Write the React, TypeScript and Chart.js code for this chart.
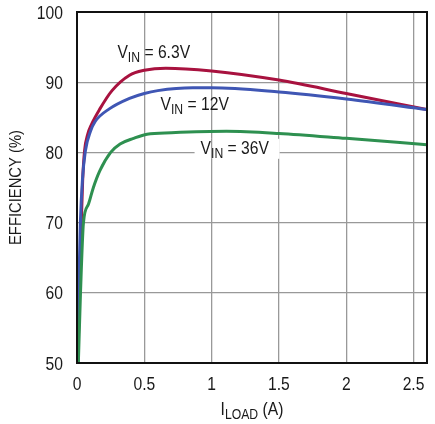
import { useEffect, useRef } from "react"
import { Chart, registerables } from "chart.js"

Chart.register(...registerables)

const FONT = '"Liberation Sans", Arial, sans-serif'
// the reference uses a condensed Helvetica; squeeze Liberation Sans to match
const SX = 0.87

// load current (A) and efficiency (%) for each input voltage
const vin63X = [0.007, 0.02, 0.032, 0.042, 0.056, 0.08, 0.108, 0.17, 0.26, 0.39, 0.5, 0.66, 1.0, 1.5, 2.0, 2.6]
const vin63Y = [50, 62, 70, 76, 80.2, 82.6, 84.0, 86.2, 88.8, 91, 91.7, 92.0, 91.6, 90.3, 88.4, 86.1]

const vin12X = [0.006, 0.015, 0.025, 0.04, 0.062, 0.1, 0.135, 0.24, 0.39, 0.5, 0.6, 0.86, 1.0, 1.5, 2.0, 2.6]
const vin12Y = [50, 62, 70, 76, 80.2, 83.0, 84.4, 86.2, 87.7, 88.4, 88.8, 89.2, 89.2, 88.6, 87.6, 86.1]

const vin36X = [0.01, 0.026, 0.048, 0.085, 0.12, 0.17, 0.25, 0.32, 0.42, 0.52, 0.7, 1.11, 1.5, 2.0, 2.6]
const vin36Y = [50, 60, 70, 72.6, 74.9, 77.4, 80, 81.2, 82, 82.6, 82.8, 83.0, 82.7, 82.0, 81.1]

const xTicks = [0, 0.5, 1, 1.5, 2, 2.5]
const yTicks = [50, 60, 70, 80, 90, 100]

// curve labels, anchored in data units (left edge, baseline)
const labels = [
  { rest: "6.3V", x: 0.3, y: 93.4, box: false },
  { rest: "12V", x: 0.62, y: 86.0, box: false },
  { rest: "36V", x: 0.918, y: 79.8, box: true },
]

const pts = (xs: number[], ys: number[]) => xs.map((x, i) => ({ x, y: ys[i] }))

// draws condensed text with its left edge at x; returns the width used
function txt(ctx: CanvasRenderingContext2D, s: string, x: number, y: number, size: number) {
  ctx.font = `${size}px ${FONT}`
  ctx.save()
  ctx.translate(x, y)
  ctx.scale(SX, 1)
  ctx.textAlign = "left"
  ctx.textBaseline = "alphabetic"
  ctx.fillText(s, 0, 0)
  ctx.restore()
  return ctx.measureText(s).width * SX
}

function width(ctx: CanvasRenderingContext2D, s: string, size: number) {
  ctx.font = `${size}px ${FONT}`
  return ctx.measureText(s).width * SX
}

function drawSub(ctx: CanvasRenderingContext2D, x: number, y: number, main: string, sub: string, rest: string, size: number) {
  let w = txt(ctx, main, x, y, size)
  w += txt(ctx, sub, x + w, y + size * 0.22, size * 0.78)
  w += txt(ctx, rest, x + w, y, size)
  return w
}

const decor = {
  id: "decor",
  beforeDatasetsDraw(chart: any) {
    const { ctx, scales } = chart
    ctx.save()
    labels.filter((l) => l.box).forEach((l) => {
      const px = scales.x.getPixelForValue(l.x)
      const py = scales.y.getPixelForValue(l.y)
      ctx.fillStyle = "#fff"
      ctx.fillRect(px - 6, py - 15, 85, 20)
      // keep the vertical grid line visible through the box
      ctx.strokeStyle = "#999"
      ctx.lineWidth = 1.3
      const gx = scales.x.getPixelForValue(1)
      ctx.beginPath()
      ctx.moveTo(gx, py - 15)
      ctx.lineTo(gx, py + 5)
      ctx.stroke()
    })
    ctx.restore()
  },
  afterDraw(chart: any) {
    const { ctx, chartArea, scales } = chart
    ctx.save()
    ctx.strokeStyle = "#111"
    ctx.lineWidth = 2
    ctx.strokeRect(chartArea.left, chartArea.top, chartArea.right - chartArea.left, chartArea.bottom - chartArea.top)

    ctx.fillStyle = "#1a1a1a"

    // tick labels
    scales.y.ticks.forEach((t: any) => {
      const s = String(t.value)
      const py = scales.y.getPixelForValue(t.value)
      txt(ctx, s, chartArea.left - 14 - width(ctx, s, 18), py + 6.5, 18)
    })
    scales.x.ticks.forEach((t: any) => {
      const s = String(t.value)
      const px = scales.x.getPixelForValue(t.value)
      txt(ctx, s, px - width(ctx, s, 18) / 2, chartArea.bottom + 27, 18)
    })

    labels.forEach((l) => {
      drawSub(ctx, scales.x.getPixelForValue(l.x), scales.y.getPixelForValue(l.y), "V", "IN", " = " + l.rest, 18)
    })

    // x title with subscript
    const total = width(ctx, "I", 18) + width(ctx, "LOAD", 18 * 0.78) + width(ctx, " (A)", 18)
    const cx = (chartArea.left + chartArea.right) / 2
    drawSub(ctx, cx - total / 2, chartArea.bottom + 52, "I", "LOAD", " (A)", 18)

    // y title
    ctx.translate(21, (chartArea.top + chartArea.bottom) / 2)
    ctx.rotate(-Math.PI / 2)
    const tw = width(ctx, "EFFICIENCY (%)", 17)
    txt(ctx, "EFFICIENCY (%)", -tw / 2, 0, 17)
    ctx.restore()
  },
}

export default function App() {
  const canvasRef = useRef<HTMLCanvasElement>(null)
  const chartRef = useRef<Chart | null>(null)

  useEffect(() => {
    if (!canvasRef.current) return
    if (chartRef.current) chartRef.current.destroy()

    const line = (data: any, color: string) => ({
      data,
      borderColor: color,
      borderWidth: 3,
      pointRadius: 0,
      fill: false,
      cubicInterpolationMode: "monotone" as const,
    })

    chartRef.current = new Chart(canvasRef.current, {
      type: "line",
      data: {
        datasets: [
          line(pts(vin36X, vin36Y), "#2e9050"),
          line(pts(vin12X, vin12Y), "#3f56b4"),
          line(pts(vin63X, vin63Y), "#a8123f"),
        ],
      },
      options: {
        animation: false,
        responsive: true,
        maintainAspectRatio: false,
        layout: { padding: { top: 12, right: 8, left: 0, bottom: 0 } },
        plugins: { legend: { display: false }, tooltip: { enabled: false } },
        scales: {
          x: {
            type: "linear",
            min: 0,
            max: 2.6,
            afterBuildTicks: (s: any) => {
              s.ticks = xTicks.map((v) => ({ value: v }))
            },
            afterFit: (s: any) => {
              s.height = 61
            },
            grid: { color: "#999", lineWidth: 1.3, drawTicks: false },
            border: { display: false },
            ticks: { display: false },
          },
          y: {
            min: 50,
            max: 100,
            afterBuildTicks: (s: any) => {
              s.ticks = yTicks.map((v) => ({ value: v }))
            },
            afterFit: (s: any) => {
              s.width = 77
            },
            grid: { color: "#999", lineWidth: 1.3, drawTicks: false },
            border: { display: false },
            ticks: { display: false },
          },
        },
      },
      plugins: [decor],
    })

    return () => {
      if (chartRef.current) {
        chartRef.current.destroy()
        chartRef.current = null
      }
    }
  }, [])

  return (
    <div style={{ position: "fixed", left: 0, top: 0, width: 435, height: 424, background: "#fff" }}>
      <canvas ref={canvasRef}></canvas>
    </div>
  )
}
